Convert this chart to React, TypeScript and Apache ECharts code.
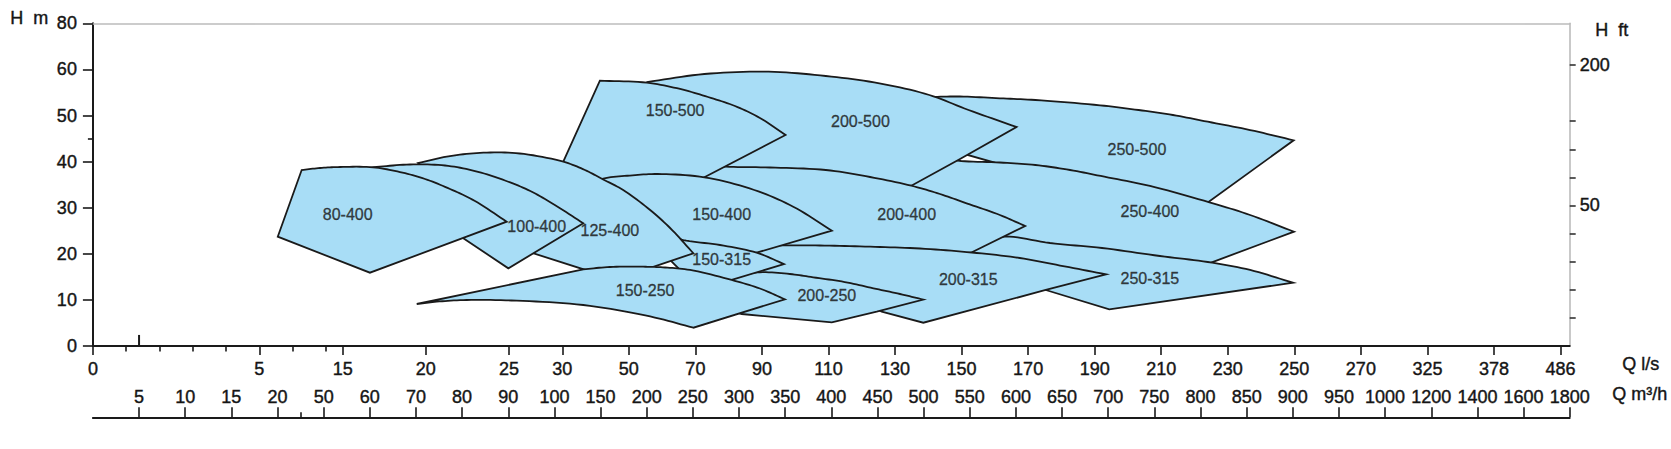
import React, { useEffect, useRef } from "react";
import * as echarts from "echarts";

// ---- Axis tick definitions ----
// Flow Q in l/s (primary axis just under the plot) and their positions along the drawing axis
const LS_TICKS = [0, 5, 15, 20, 25, 30, 50, 70, 90, 110, 130, 150, 170, 190, 210, 230, 250, 270, 325, 378, 486];
const LS_POS = [0, 3.606, 5.413, 7.211, 9.016, 10.171, 11.613, 13.055, 14.497, 15.939, 17.381, 18.823, 20.265, 21.707, 23.149, 24.591, 26.033, 27.475, 28.917, 30.359, 31.801];
const LS_MINOR_POS = [0.721, 1.442, 2.164, 2.885, 4.327, 5.048];
// Flow Q in m³/h (second, lower axis), evenly spaced ticks
const M3H_TICKS = [5, 10, 15, 20, 50, 60, 70, 80, 90, 100, 150, 200, 250, 300, 350, 400, 450, 500, 550, 600, 650, 700, 750, 800, 850, 900, 950, 1000, 1200, 1400, 1600, 1800];
const M3H_MINOR_POS = [4.5];
// Head axes
const H_M_TICKS = [0, 10, 20, 30, 40, 50, 60, 70];
const H_M_LABELS = ["0", "10", "20", "30", "40", "50", "60", "80"];
const H_M_MINOR = [45];
const FT_TICKS = [20, 40, 60, 80, 100, 120, 140, 160, 200];
const FT_LABEL_VALUES = [100, 200];
const FT_LABEL_TEXT = ["50", "200"];
const SPIKE_Q_M3H = 5;
const SPIKE_H = 2.4;

// ---- Coverage regions: [Q l/s, H m] outline points ----
const S_250_500 = [[146.5, 42.52], [139.9, 54.01], [149.5, 54.12], [161.5, 53.73], [172.2, 53.36], [191.6, 52.21], [203.2, 51.19], [213.5, 50.11], [224.0, 48.65], [236.7, 46.85], [249.8, 44.62], [224.1, 31.17], [215.6, 28.42]];
const S_250_400 = [[145.0, 40.78], [148.9, 40.2], [161.5, 39.8], [172.2, 39.26], [182.6, 38.18], [192.9, 36.72], [206.6, 34.71], [224.5, 31.17], [236.7, 28.42], [249.9, 24.79], [224.4, 17.94], [215.6, 15.4], [167.5, 21.91], [158.5, 24.73], [140.5, 31.67], [133.0, 34.49], [137.5, 38.18]];
const S_250_315 = [[158.5, 22.99], [163.4, 23.75], [176.6, 22.34], [192.2, 21.26], [209.6, 19.52], [224.0, 18.22], [236.7, 16.49], [249.6, 13.73], [194.4, 7.96], [175.3, 12.15], [161.5, 16.49], [154.0, 19.09], [151.9, 20.82]];
const S_200_500 = [[53.4, 55.53], [55.5, 57.27], [72.7, 59.0], [92.0, 59.5], [109.2, 58.57], [125.3, 56.98], [140.3, 54.45], [152.1, 51.19], [166.5, 47.51], [149.4, 40.5], [134.9, 34.77], [122.5, 32.75], [71.4, 36.01]];
const S_200_400 = [[71.4, 39.26], [79.1, 38.89], [92.4, 38.72], [109.2, 38.18], [122.5, 36.66], [134.9, 34.77], [143.5, 32.97], [151.5, 30.95], [161.5, 28.42], [169.1, 26.03], [153.1, 20.33], [146.5, 18.22], [101.4, 20.82], [94.2, 21.69], [83.4, 27.33], [68.4, 34.92]];
const S_200_315 = [[94.8, 21.84], [107.4, 21.8], [122.5, 21.54], [137.5, 21.15], [153.1, 20.28], [167.5, 19.09], [179.6, 17.46], [193.4, 15.55], [175.3, 12.15], [138.5, 5.05], [126.0, 7.44], [116.5, 11.06], [98.4, 14.75], [88.8, 15.73], [87.0, 18.22], [87.0, 20.39]];
const S_200_250 = [[81.9, 15.18], [89.4, 15.99], [98.4, 15.62], [105.4, 14.9], [114.9, 13.88], [123.5, 12.52], [131.5, 11.28], [138.5, 10.07], [124.5, 7.44], [111.0, 5.14], [83.9, 6.94], [75.9, 8.89]];
const S_150_500 = [[28.5, 31.67], [30.3, 39.98], [41.3, 57.55], [55.4, 57.12], [65.4, 55.75], [73.8, 54.01], [81.9, 52.06], [89.4, 49.46], [97.1, 45.77], [72.7, 36.59], [65.4, 33.84]];
const S_150_400 = [[36.8, 34.92], [42.3, 36.33], [50.3, 36.98], [58.7, 37.31], [72.7, 36.59], [87.7, 33.84], [99.4, 30.22], [111.0, 25.01], [88.4, 20.24], [75.9, 17.57], [47.3, 28.42]];
const S_150_315 = [[62.4, 24.08], [66.4, 22.99], [77.4, 21.91], [88.4, 20.24], [96.6, 17.79], [80.9, 14.32], [71.4, 12.15], [59.4, 20.82]];
const S_125_400 = [[24.46, 22.43], [19.54, 39.7], [21.46, 41.21], [23.46, 41.93], [26.0, 41.76], [30.3, 39.98], [36.8, 38.18], [42.3, 36.12], [48.3, 33.84], [56.4, 29.5], [62.4, 25.6], [69.4, 20.11], [56.9, 17.07], [45.9, 14.43]];
const S_100_400 = [[20.26, 28.2], [15.44, 38.18], [17.05, 38.83], [19.05, 39.37], [21.16, 39.15], [22.96, 37.96], [24.76, 35.9], [27.0, 33.62], [29.3, 30.59], [36.3, 26.62], [24.96, 16.85]];
const S_80_400 = [[7.21, 23.71], [10.08, 38.18], [12.28, 38.61], [14.68, 38.83], [16.83, 38.76], [18.45, 37.74], [19.96, 36.23], [21.46, 34.06], [22.96, 31.45], [24.86, 26.96], [16.64, 15.9]];
const S_150_250 = [[69.4, 3.97], [56.4, 6.4], [36.3, 8.89], [25.72, 9.83], [22.46, 9.98], [20.66, 9.61], [19.46, 9.11], [36.3, 16.64], [44.3, 17.14], [54.3, 17.2], [60.9, 17.03], [68.4, 16.49], [80.9, 14.32], [89.4, 12.47], [96.9, 10.13]];

// drawing order (bottom first); curves = index ranges of outline points that lie on a curved edge
const SHAPES = [
  { name: "250-500", pts: S_250_500, curves: [[1, 10]] },
  { name: "250-400", pts: S_250_400, curves: [[0, 9]] },
  { name: "250-315", pts: S_250_315, curves: [[0, 7]] },
  { name: "200-500", pts: S_200_500, curves: [[1, 8]] },
  { name: "200-400", pts: S_200_400, curves: [[0, 9]] },
  { name: "200-315", pts: S_200_315, curves: [[0, 7]] },
  { name: "200-250", pts: S_200_250, curves: [[0, 7]] },
  { name: "150-500", pts: S_150_500, curves: [[2, 8]] },
  { name: "150-400", pts: S_150_400, curves: [[0, 7]] },
  { name: "150-315", pts: S_150_315, curves: [[0, 4]] },
  { name: "125-400", pts: S_125_400, curves: [[1, 11]] },
  { name: "100-400", pts: S_100_400, curves: [[1, 9]] },
  { name: "80-400", pts: S_80_400, curves: [[1, 9]] },
  { name: "150-250", pts: S_150_250, curves: [[0, 6], [7, 14]] },
];

const LABEL_NAMES = ["80-400", "100-400", "125-400", "150-500", "150-400", "150-315", "150-250", "200-250", "200-315", "200-400", "200-500", "250-500", "250-400", "250-315"];
const LABEL_Q = [15.3, 27.6, 44.3, 63.9, 77.9, 77.9, 54.9, 109.5, 152.0, 133.5, 119.6, 202.7, 206.6, 206.6];
const LABEL_H = [28.63, 25.88, 25.16, 51.19, 28.63, 18.66, 12.0, 10.85, 14.53, 28.63, 48.65, 42.67, 29.13, 14.69];

const FONT = "'Liberation Sans', Arial, Helvetica, sans-serif";
const TEXT = "#151515";
const FILL = "#a8ddf6";
const EDGE = "#1a1a1a";

function lsToPos(q: number): number {
  for (let i = 0; i < LS_TICKS.length - 1; i++) {
    if (q <= LS_TICKS[i + 1]) {
      const t = (q - LS_TICKS[i]) / (LS_TICKS[i + 1] - LS_TICKS[i]);
      return LS_POS[i] + t * (LS_POS[i + 1] - LS_POS[i]);
    }
  }
  return LS_POS[LS_POS.length - 1];
}
const m3hPos = (v: number) => M3H_TICKS.indexOf(v) + 1;
const M3H_POS = M3H_TICKS.map((_, i) => i + 1);
const nearestIdx = (arr: number[], v: number) => {
  let best = 0;
  for (let i = 1; i < arr.length; i++) if (Math.abs(arr[i] - v) < Math.abs(arr[best] - v)) best = i;
  return best;
};

type P = number[];
// centripetal Catmull-Rom point between p1 and p2 (rendering of curved edges)
function catmull(p0: P, p1: P, p2: P, p3: P, u: number): P {
  const d = (a: P, b: P) => Math.max(Math.pow(Math.hypot(b[0] - a[0], b[1] - a[1]), 0.5), 1e-4);
  const t0 = 0;
  const t1 = t0 + d(p0, p1);
  const t2 = t1 + d(p1, p2);
  const t3 = t2 + d(p2, p3);
  const t = t1 + (t2 - t1) * u;
  const lerp = (a: P, b: P, ta: number, tb: number): P => [
    ((tb - t) / (tb - ta)) * a[0] + ((t - ta) / (tb - ta)) * b[0],
    ((tb - t) / (tb - ta)) * a[1] + ((t - ta) / (tb - ta)) * b[1],
  ];
  const A1 = lerp(p0, p1, t0, t1);
  const A2 = lerp(p1, p2, t1, t2);
  const A3 = lerp(p2, p3, t2, t3);
  const B1 = lerp(A1, A2, t0, t2);
  const B2 = lerp(A2, A3, t1, t3);
  return lerp(B1, B2, t1, t2);
}

function outline(px: P[], curves: number[][]): P[] {
  const out: P[] = [];
  const n = px.length;
  for (let i = 0; i < n; i++) {
    out.push(px[i]);
    const run = curves.find(([a, b]) => i >= a && i < b);
    if (run) {
      const [a, b] = run;
      const p1 = px[i];
      const p2 = px[i + 1];
      const p0 = i > a ? px[i - 1] : [2 * p1[0] - p2[0], 2 * p1[1] - p2[1]];
      const p3 = i + 1 < b ? px[i + 2] : [2 * p2[0] - p1[0], 2 * p2[1] - p1[1]];
      const steps = 10;
      for (let k = 1; k < steps; k++) out.push(catmull(p0, p1, p2, p3, k / steps));
    }
  }
  return out;
}

const FT_MAX = 70 / 0.3048;

function buildOption(): any {
  const axisText = { fontFamily: FONT, fontSize: 18, color: TEXT, textBorderColor: TEXT, textBorderWidth: 0.4 };
  const shapeSeries = SHAPES.map((s, idx) => ({
    type: "custom",
    name: s.name,
    xAxisIndex: 0,
    yAxisIndex: 0,
    z: 10 + idx,
    silent: true,
    data: [[lsToPos(s.pts[0][0]), s.pts[0][1]]],
    renderItem: (_p: any, api: any) => {
      const px = s.pts.map(([q, h]) => api.coord([lsToPos(q), h]));
      return {
        type: "polygon",
        shape: { points: outline(px, s.curves) },
        style: { fill: FILL, stroke: EDGE, lineWidth: 1.8, lineJoin: "miter", miterLimit: 20 },
      };
    },
  }));

  return {
    animation: false,
    backgroundColor: "#ffffff",
    grid: { left: 92.9, right: 101.3, top: 23.3, bottom: 103, containLabel: false },
    xAxis: [
      {
        type: "value", min: 0, max: 32, position: "bottom",
        axisLine: { show: true, onZero: false, lineStyle: { color: EDGE, width: 2 } },
        axisTick: { show: true, customValues: LS_POS, length: 9, lineStyle: { color: EDGE, width: 1.6 } },
        axisLabel: {
          show: true, customValues: LS_POS, margin: 14, ...axisText,
          formatter: (v: number) => String(LS_TICKS[nearestIdx(LS_POS, v)]),
        },
        splitLine: { show: false },
      },
      {
        type: "value", min: 0, max: 32, position: "bottom",
        axisLine: { show: false, onZero: false },
        axisTick: { show: true, customValues: LS_MINOR_POS, length: 5.5, lineStyle: { color: EDGE, width: 1.6 } },
        axisLabel: { show: false },
        splitLine: { show: false },
      },
      {
        type: "value", min: 0, max: 32, position: "bottom", offset: 71.3,
        axisLine: { show: true, onZero: false, lineStyle: { color: EDGE, width: 2 } },
        axisTick: { show: true, inside: true, customValues: M3H_POS, length: 10, lineStyle: { color: EDGE, width: 1.6 } },
        axisLabel: {
          show: true, inside: true, customValues: M3H_POS, margin: 11, ...axisText,
          formatter: (v: number) => String(M3H_TICKS[nearestIdx(M3H_POS, v)]),
        },
        splitLine: { show: false },
      },
      {
        type: "value", min: 0, max: 32, position: "bottom", offset: 71.3,
        axisLine: { show: false, onZero: false },
        axisTick: { show: true, inside: true, customValues: M3H_MINOR_POS, length: 5, lineStyle: { color: EDGE, width: 1.6 } },
        axisLabel: { show: false },
        splitLine: { show: false },
      },
      {
        type: "value", min: 0, max: 32, position: "top",
        axisLine: { show: true, onZero: false, lineStyle: { color: "#bcbcbc", width: 1.6 } },
        axisTick: { show: false },
        axisLabel: { show: false },
        splitLine: { show: false },
      },
    ],
    yAxis: [
      {
        type: "value", min: 0, max: 70, position: "left",
        axisLine: { show: true, onZero: false, lineStyle: { color: EDGE, width: 2 } },
        axisTick: { show: true, customValues: H_M_TICKS, length: 10, lineStyle: { color: EDGE, width: 1.6 } },
        axisLabel: {
          show: true, customValues: H_M_TICKS, margin: 16, ...axisText,
          formatter: (v: number) => H_M_LABELS[nearestIdx(H_M_TICKS, v)],
        },
        splitLine: { show: false },
      },
      {
        type: "value", min: 0, max: 70, position: "left",
        axisLine: { show: false, onZero: false },
        axisTick: { show: true, customValues: H_M_MINOR, length: 5, lineStyle: { color: EDGE, width: 1.6 } },
        axisLabel: { show: false },
        splitLine: { show: false },
      },
      {
        type: "value", min: 0, max: FT_MAX, position: "right",
        axisLine: { show: true, onZero: false, lineStyle: { color: "#bcbcbc", width: 1.6 } },
        axisTick: { show: true, customValues: FT_TICKS, length: 6, lineStyle: { color: "#333333", width: 1.6 } },
        axisLabel: {
          show: true, customValues: FT_LABEL_VALUES, margin: 10, ...axisText,
          formatter: (v: number) => FT_LABEL_TEXT[nearestIdx(FT_LABEL_VALUES, v)],
        },
        splitLine: { show: false },
      },
    ],
    graphic: [
      { type: "text", left: 10, top: 9, style: { text: "H  m", font: `18px ${FONT}`, fill: TEXT, stroke: TEXT, lineWidth: 0.4 } },
      { type: "text", left: 1595, top: 21, style: { text: "H  ft", font: `18px ${FONT}`, fill: TEXT, stroke: TEXT, lineWidth: 0.4 } },
      { type: "text", left: 1622, top: 355, style: { text: "Q l/s", font: `18px ${FONT}`, fill: TEXT, stroke: TEXT, lineWidth: 0.4 } },
      { type: "text", left: 1612, top: 385, style: { text: "Q m³/h", font: `18px ${FONT}`, fill: TEXT, stroke: TEXT, lineWidth: 0.4 } },
    ],
    series: [
      ...shapeSeries,
      {
        type: "line",
        xAxisIndex: 0,
        yAxisIndex: 0,
        z: 5,
        symbol: "none",
        silent: true,
        lineStyle: { color: EDGE, width: 2 },
        data: [[m3hPos(SPIKE_Q_M3H), 0], [m3hPos(SPIKE_Q_M3H), SPIKE_H]],
      },
      {
        type: "scatter",
        xAxisIndex: 0,
        yAxisIndex: 0,
        z: 60,
        symbolSize: 0,
        silent: true,
        label: {
          show: true, position: "inside", formatter: "{b}",
          fontFamily: FONT, fontSize: 16, color: TEXT, textBorderColor: TEXT, textBorderWidth: 0.35,
        },
        data: LABEL_NAMES.map((n, i) => ({ name: n, value: [lsToPos(LABEL_Q[i]), LABEL_H[i]] })),
      },
    ],
  };
}

export default function App() {
  const ref = useRef<HTMLDivElement>(null);
  useEffect(() => {
    if (!ref.current) return;
    const chart = echarts.init(ref.current, null, { renderer: "svg" });
    chart.setOption(buildOption());
    return () => chart.dispose();
  }, []);
  return (
    <div
      ref={ref}
      style={{ position: "fixed", left: 0, top: 0, width: 1671, height: 449, background: "#ffffff" }}
    />
  );
}
